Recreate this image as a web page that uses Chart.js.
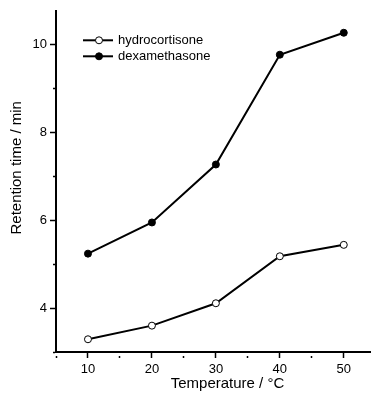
<!DOCTYPE html>
<html><head><meta charset="utf-8">
<script src="https://cdn.jsdelivr.net/npm/chart.js@4/dist/chart.umd.min.js"></script>
<style>html,body{margin:0;padding:0;background:#fff;}</style>
</head><body>
<canvas id="c" width="375" height="402" style="display:block;width:375px;height:402px"></canvas>
<script>
const temperatures = [10, 20, 30, 40, 50];
const hydrocortisone = [3.29, 3.60, 4.11, 5.18, 5.44];
const dexamethasone = [5.24, 5.95, 7.27, 9.77, 10.27];
const seriesNames = ['hydrocortisone', 'dexamethasone'];
const xTickValues = [5, 10, 15, 20, 25, 30, 35, 40, 45, 50];
const xTickLabels = ['', '10', '', '20', '', '30', '', '40', '', '50'];
const yTickValues = [3, 4, 5, 6, 7, 8, 9, 10];
const yTickLabels = ['', '4', '', '6', '', '8', '', '10'];
const xTitle = 'Temperature / °C';
const yTitle = 'Retention time / min';

const FONT = '"Liberation Sans", Arial, sans-serif';
Chart.defaults.font.family = FONT;
Chart.defaults.color = '#000';

const pts = arr => temperatures.map((t, i) => ({ x: t, y: arr[i] }));

const legendPlugin = {
  id: 'insetLegend',
  afterDatasetsDraw(chart) {
    const { ctx, chartArea: a } = chart;
    chart.data.datasets.forEach((ds, i) => {
      const y = a.top + 29.5 + i * 16;
      ctx.save();
      ctx.strokeStyle = '#000';
      ctx.lineWidth = 2;
      ctx.beginPath();
      ctx.moveTo(a.left + 27, y);
      ctx.lineTo(a.left + 57, y);
      ctx.stroke();
      ctx.beginPath();
      ctx.arc(a.left + 43, y, 3.5, 0, Math.PI * 2);
      ctx.fillStyle = ds.pointBackgroundColor;
      ctx.fill();
      ctx.lineWidth = 1;
      ctx.stroke();
      ctx.fillStyle = '#000';
      ctx.font = '13px ' + FONT;
      ctx.textBaseline = 'middle';
      ctx.textAlign = 'left';
      ctx.fillText(ds.label, a.left + 62, y);
      ctx.restore();
    });
  }
};

const axisTitlePlugin = {
  id: 'axisTitles',
  afterDraw(chart) {
    const { ctx, chartArea: a } = chart;
    ctx.save();
    ctx.fillStyle = '#000';
    ctx.font = '15px ' + FONT;
    ctx.textAlign = 'center';
    ctx.textBaseline = 'middle';
    ctx.fillText(xTitle, a.left + 171.5, a.bottom + 32);
    ctx.translate(17, a.top + 157);
    ctx.rotate(-Math.PI / 2);
    ctx.fillText(yTitle, 0, 0);
    ctx.restore();
  }
};

const minorDash = (labels, values) => ctx => {
  const i = values.indexOf(ctx.tick ? ctx.tick.value : NaN);
  return (i >= 0 && labels[i] === '') ? [3, 3] : [];
};

new Chart(document.getElementById('c'), {
  type: 'line',
  data: {
    datasets: [
      {
        label: seriesNames[0], data: pts(hydrocortisone),
        borderColor: '#000', borderWidth: 2, tension: 0,
        pointRadius: 3.5, pointBackgroundColor: '#fff', pointBorderColor: '#000', pointBorderWidth: 1
      },
      {
        label: seriesNames[1], data: pts(dexamethasone),
        borderColor: '#000', borderWidth: 2, tension: 0,
        pointRadius: 3.5, pointBackgroundColor: '#000', pointBorderColor: '#000', pointBorderWidth: 1
      }
    ]
  },
  options: {
    responsive: false,
    animation: false,
    devicePixelRatio: 1,
    layout: { padding: { top: 10, right: 0, left: 0, bottom: 0 } },
    plugins: { legend: { display: false }, tooltip: { enabled: false } },
    scales: {
      x: {
        type: 'linear', min: 5, max: 54.1,
        afterBuildTicks: s => { s.ticks = xTickValues.map(v => ({ value: v })); },
        afterFit: s => { s.height = 50; },
        ticks: {
          autoSkip: false, maxRotation: 0, padding: 4,
          font: { size: 13 }, color: '#000',
          callback: v => xTickLabels[xTickValues.indexOf(v)]
        },
        grid: {
          drawOnChartArea: false, drawTicks: true, tickLength: 6,
          tickColor: '#000', tickWidth: 1.5,
          tickBorderDash: minorDash(xTickLabels, xTickValues),
          tickBorderDashOffset: 3
        },
        border: { display: true, color: '#000', width: 2 },
        title: { display: false }
      },
      y: {
        type: 'linear', min: 3, max: 10.77,
        afterBuildTicks: s => { s.ticks = yTickValues.map(v => ({ value: v })); },
        afterFit: s => { s.width = 56; },
        ticks: {
          autoSkip: false, padding: 3,
          font: { size: 13 }, color: '#000',
          callback: v => yTickLabels[yTickValues.indexOf(v)]
        },
        grid: {
          drawOnChartArea: false, drawTicks: true, tickLength: 6,
          tickColor: '#000', tickWidth: 1.5,
          tickBorderDash: minorDash(yTickLabels, yTickValues),
          tickBorderDashOffset: 3
        },
        border: { display: true, color: '#000', width: 2 },
        title: { display: false }
      }
    }
  },
  plugins: [legendPlugin, axisTitlePlugin]
});
</script>
</body></html>
